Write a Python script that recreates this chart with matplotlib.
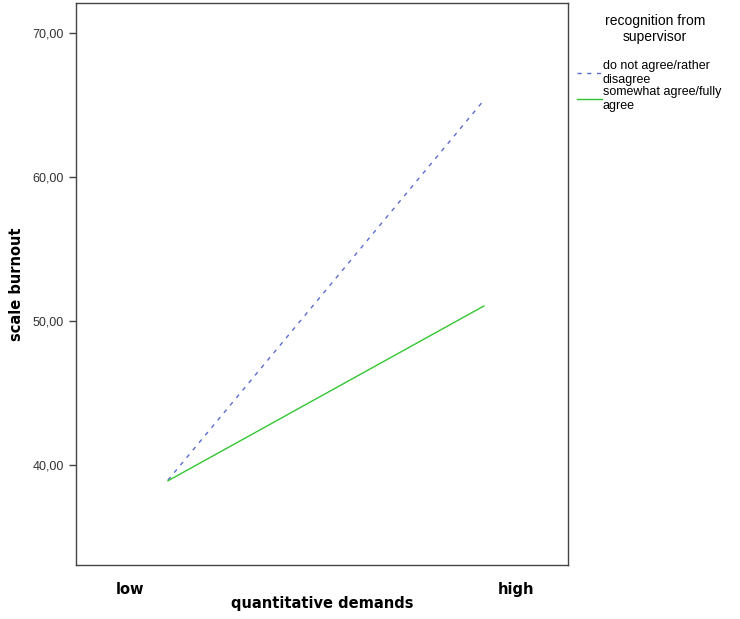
import matplotlib
matplotlib.use("Agg")
import matplotlib.pyplot as plt
from matplotlib.lines import Line2D

levels = ["low", "high"]
series_names = ["do not agree/rather\ndisagree", "somewhat agree/fully\nagree"]
disagree_vals = [38.95, 65.35]
agree_vals = [38.9, 51.05]
y_ticks = [40, 50, 60, 70]
y_tick_labels = ["40,00", "50,00", "60,00", "70,00"]

fig = plt.figure(figsize=(7.4, 6.19), dpi=100)
ax = fig.add_axes([76/740, 1-565/619, (568-76)/740, (565-3)/619])

x = [0, 1]
ax.plot(x, disagree_vals, color="#5b6cd0", lw=1.0, linestyle=(0, (3, 4)))
ax.plot(x, agree_vals, color="#33c633", lw=1.0)

ax.set_xlim(-0.291, 1.266)
ax.set_ylim(33.05, 72.1)
ax.set_yticks(y_ticks)
ax.set_yticklabels(y_tick_labels, fontsize=9, family="Liberation Sans", color="#333333")
ax.tick_params(axis="y", direction="out", length=5, width=1, color="#444444")
ax.set_xticks([])
for s in ax.spines.values():
    s.set_color("#444444")
    s.set_linewidth(1.0)

# category labels
lab_pos = [-0.12, 1.10]
for p, lab in zip(lab_pos, levels):
    ax.text(p, -0.03, lab, transform=ax.get_xaxis_transform(), ha="center", va="top",
            fontsize=10.5, fontweight="bold", family="DejaVu Sans")
ax.set_xlabel("quantitative demands", fontsize=10.5, fontweight="bold", labelpad=22)
ax.set_ylabel("scale burnout", fontsize=10.5, fontweight="bold", labelpad=6)

# legend
fig.text(655/740, 1-29/619, "recognition from\nsupervisor", ha="center", va="center",
         fontsize=10, family="Liberation Sans", linespacing=1.1)
handles = [Line2D([], [], color="#5b6cd0", lw=1.0, linestyle=(0, (3, 4))),
           Line2D([], [], color="#33c633", lw=1.0)]
leg = fig.legend(handles, series_names, loc="upper left", bbox_to_anchor=(572/740, 1-55/619),
                 frameon=False, handlelength=2.0, handletextpad=0.05, borderaxespad=0,
                 labelspacing=0.05, prop={"family": "Liberation Sans", "size": 9})
for t in leg.get_texts():
    t.set_linespacing(1.2)

fig.savefig("out.png", dpi=100)
